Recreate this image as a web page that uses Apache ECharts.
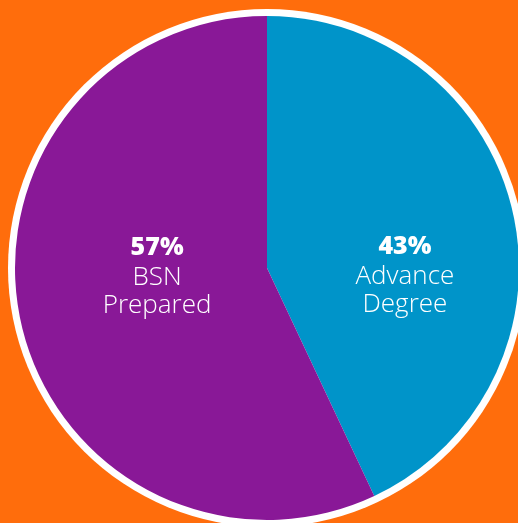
<!DOCTYPE html>
<html><head><meta charset="utf-8">
<script src="https://cdn.jsdelivr.net/npm/echarts@6/dist/echarts.min.js"></script>
<style>html,body{margin:0;padding:0;background:#FF6D0C;}#c{width:518px;height:523px;}</style>
</head><body><div id="c"></div>
<script>
const categories = ['Advance\nDegree', 'BSN\nPrepared'];
const values = [43, 57];
const colors = ['#0094C9', '#891897'];

const chart = echarts.init(document.getElementById('c'));
chart.setOption({
  backgroundColor: '#FF6D0C',
  series: [
    {
      type: 'pie', silent: true, center: [267, 268], radius: [0, 259],
      label: { show: false }, labelLine: { show: false },
      data: [{ value: 1, itemStyle: { color: '#ffffff' } }],
      animation: false, z: 1
    },
    {
      type: 'pie', center: [267, 268], radius: [0, 252], startAngle: 90,
      clockwise: true, animation: false, z: 2,
      itemStyle: { borderWidth: 0 },
      label: {
        show: true, position: 'inside', color: '#fff',
        formatter: p => '{a|' + p.value + '%}\n' + p.name.split('\n').map(s => '{b|' + s + '}').join('\n'),
        rich: {
          a: { fontFamily: 'Open Sans', fontWeight: 800, fontSize: 25, color: '#fff', lineHeight: 31, align: 'center' },
          b: { fontFamily: 'Open Sans', fontWeight: 300, fontSize: 26, color: '#fff', lineHeight: 28, align: 'center' }
        }
      },
      labelLine: { show: false },
      labelLayout: p => p.dataIndex === 0 ? { dx: 12, dy: 35 } : { dx: 16, dy: -20 },
      data: categories.map((c, i) => ({ name: c, value: values[i], itemStyle: { color: colors[i] } }))
    }
  ]
});
</script></body></html>
